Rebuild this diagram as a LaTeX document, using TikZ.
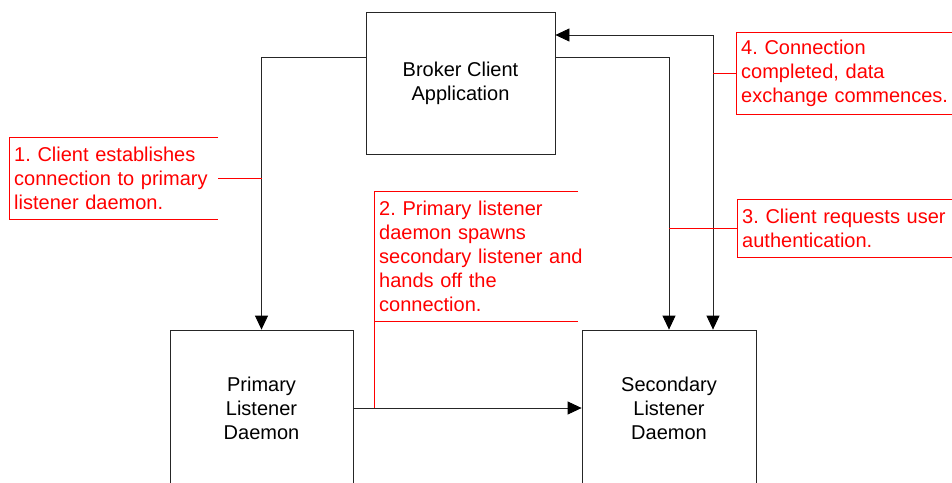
\documentclass[tikz,border=0pt]{standalone}
\usepackage{fontspec}
\setmainfont{Liberation Sans}
\usetikzlibrary{arrows.meta,positioning}

\begin{document}
\frenchspacing
\begin{tikzpicture}[x=1pt, y=-1pt,
        box/.style={draw=black!85, line width=0.8pt, align=center,
            font=\fontsize{20}{24}\selectfont},
        note/.style={anchor=north west, inner xsep=5pt, inner ysep=0pt, text width=230pt,
            align=left, text=red, font=\fontsize{20}{24}\selectfont},
        outline/.style={red, line width=0.7pt},
        tip/.tip={Triangle[length=14pt,width=13pt,color=black]},
        arrow/.style={-tip, line width=0.8pt, black!85}]
        % Marco
        \useasboundingbox (0,0) rectangle (952,482);
        \clip (0,0) rectangle (952,482);

        % Cajas
        \node[box, minimum width=189pt, minimum height=142pt] (broker) at (460.5,83) {Broker Client\\Application};
        \node[box, minimum width=183pt, minimum height=156pt] (primary) at (261.5,408) {Primary\\Listener\\Daemon};
        \node[box, minimum width=174pt, minimum height=156pt] (secondary) at (669,408) {Secondary\\Listener\\Daemon};
        \coordinate (up) at ([xshift=44pt]secondary.north);

        % Flechas
        \draw[arrow] ([yshift=26pt]broker.west) -| (primary.north);
        \draw[arrow] ([yshift=26pt]broker.east) -| (secondary.north);
        \draw[arrow] (primary.east) -- (secondary.west);
        \draw[arrow, tip-tip] (up) |- ([yshift=48pt]broker.east);

        % Notas
        \node[note, minimum height=82pt] (n1) at (9,137) {1. Client establishes\\connection to primary\\listener daemon.};
        \node[note, minimum height=130pt] (n2) at (374,191) {2. Primary listener\\daemon spawns\\secondary listener and\\hands off the\\connection.};
        \node[note, minimum height=58pt] (n3) at (737,199) {3. Client requests user\\authentication.};
        \node[note, minimum height=82pt] (n4) at (736,32) {4. Connection\\completed, data\\exchange commences.};

        \foreach \n/\w in {n1/209,n2/204,n3/216,n4/216}
            \draw[outline] (\n.north west) ++(\w,0) -- (\n.north west) -- (\n.south west) -- ++(\w,0);
        \draw[outline] ([xshift=209pt]n1.west) -- (n1.east -| primary.north);
        \draw[outline] (n2.west) -- (n2.west |- primary.east);
        \draw[outline] (n3.west) -- (n3.west -| secondary.north);
        \draw[outline] (n4.west) -- (n4.west -| up);
    \end{tikzpicture}
\end{document}
